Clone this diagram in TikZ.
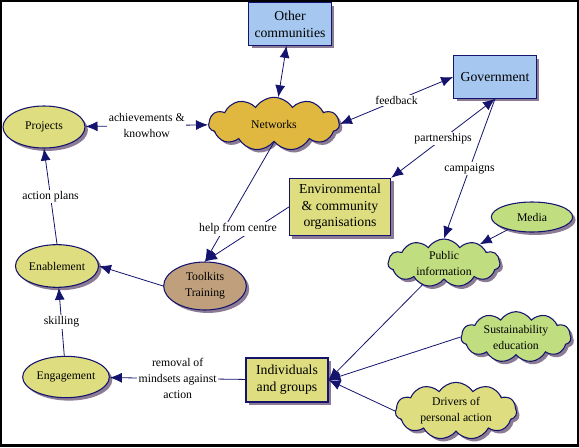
\documentclass[tikz,border=0pt]{standalone}
\usepackage{fontspec}
\setmainfont{Liberation Serif}
\newfontfamily\mapfont{Liberation Serif}
\usetikzlibrary{shapes,arrows.meta,shadows}

\definecolor{navy}{RGB}{20,20,110}
\definecolor{skyblue}{RGB}{166,200,240}
\definecolor{paleyellow}{RGB}{222,222,128}
\definecolor{palegreen}{RGB}{192,222,128}
\definecolor{gold}{RGB}{224,184,64}
\definecolor{clay}{RGB}{192,160,124}
\definecolor{shade}{RGB}{140,123,148}

\begin{document}
\begin{tikzpicture}[x=0.75pt,y=-0.75pt,>={Latex[length=9pt,width=7.5pt]}]
        % community action concept map
        \tikzstyle{base} = [draw=navy,line width=0.8pt,drop shadow={shadow xshift=2.2pt,shadow yshift=-2.2pt,fill=shade,opacity=1},font=\mapfont\fontsize{8.8}{12}\selectfont,align=center,inner sep=1pt];
        \tikzstyle{box} = [base,rectangle,font=\mapfont\fontsize{10.3}{12.5}\selectfont];
        \tikzstyle{oval} = [base,ellipse];
        \tikzstyle{puff} = [base,cloud,cloud puffs=11,cloud puff arc=115,cloud ignores aspect,inner sep=0pt];
        \tikzstyle{link} = [draw=navy,line width=0.6pt];
        \tikzstyle{tag} = [fill=white,font=\mapfont\fontsize{8.8}{12}\selectfont,align=center,inner sep=1pt];
        \tikzstyle{inside} = [font=\mapfont\fontsize{8.8}{12}\selectfont,align=center];

        \useasboundingbox (0,0) rectangle (579,447);
        \fill[black] (0,0) rectangle (579,447);
        \fill[white] (2,1.5) rectangle (576.5,443.5);

        \node[box,fill=skyblue,minimum width=62pt,minimum height=32pt] (other) at (290,24) {Other\\communities};
        \node[box,fill=skyblue,minimum width=62pt,minimum height=32pt] (gov) at (495,77) {Government};
        \node[puff,fill=gold,minimum width=98pt,minimum height=40pt,label={[inside]center:Networks}] (net) at (274,124) {};
        \node[oval,fill=paleyellow,minimum width=61.5pt,minimum height=31.5pt] (proj) at (44,127) {Projects};
        \node[box,fill=paleyellow,minimum width=76pt,minimum height=43pt] (env) at (340,207) {Environmental\\\& community\\organisations};
        \node[oval,fill=palegreen,minimum width=61pt,minimum height=22.5pt] (media) at (532,217) {Media};
        \node[puff,fill=palegreen,minimum width=84pt,minimum height=36pt,label={[inside]center:Public\\information}] (pub) at (444,263) {};
        \node[oval,fill=paleyellow,minimum width=62pt,minimum height=32pt] (enab) at (57,266) {Enablement};
        \node[oval,fill=clay,minimum width=62pt,minimum height=36pt] (tool) at (205,286) {Toolkits\\Training};
        \node[puff,fill=palegreen,minimum width=82.5pt,minimum height=38pt,label={[inside]center:Sustainability\\education}] (sust) at (516,337) {};
        \node[oval,fill=paleyellow,minimum width=61.5pt,minimum height=31pt] (eng) at (66,377) {Engagement};
        \node[box,fill=paleyellow,minimum width=61.5pt,minimum height=33pt] (ind) at (287,380) {Individuals\\and groups};
        \node[puff,fill=paleyellow,minimum width=91pt,minimum height=43pt,label={[inside]center:Drivers of\\personal action}] (drv) at (456,411) {};

        \draw[link,<->] (net) -- (other);
        \draw[link,<->] (proj) -- node[tag] {achievements \&\\knowhow} (net);
        \draw[link,<->] (net.east) -- node[tag] {feedback} (gov.west);
        \draw[link,<->] (env.north east) -- node[tag] {partnerships} (gov.south);
        \draw[link,->] (gov.south) -- node[tag] {campaigns} (pub.north);
        \draw[link,->] (media) -- (pub);

        \draw[link,->] (env.west) -- (tool.north);
        \draw[link,->] (net.south) -- (tool.north);
        \node[tag] (help) at (238,229) {help from centre};

        \draw[link,->] (tool.west) -- (enab.east);
        \draw[link,->] (enab.north) -- node[tag] {action plans} (proj.south);
        \draw[link,->] (eng) -- node[tag] {skilling} (enab);
        \draw[link,->] (ind) -- node[tag] {removal of\\mindsets against\\action} (eng);

        \draw[link,->] (pub) -- (ind.east);
        \draw[link,->] (sust.west) -- (ind.east);
        \draw[link,->] (drv.west) -- (ind.east);

    \end{tikzpicture}
\end{document}
